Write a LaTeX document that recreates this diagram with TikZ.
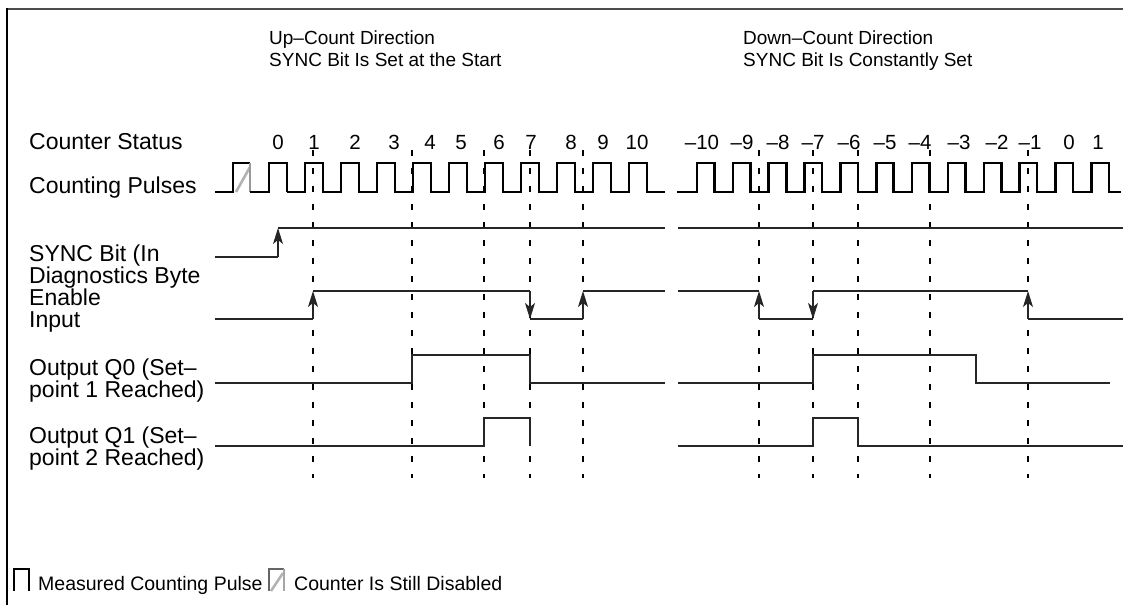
\documentclass[tikz,border=0pt]{standalone}
\usepackage{fontspec}
\setmainfont{Liberation Sans}
\usetikzlibrary{arrows.meta}
\begin{document}
\begin{tikzpicture}[x=1pt,y=-1pt,
  txt/.style={anchor=base west, inner sep=0pt, font=\fontsize{23}{22}\selectfont},
  hdr/.style={anchor=base west, inner sep=0pt, font=\fontsize{19}{22}\selectfont},
  leg/.style={anchor=base west, inner sep=0pt, font=\fontsize{19.5}{22}\selectfont},
  num/.style={anchor=base, inner sep=0pt, font=\fontsize{20.5}{22}\selectfont},
  sig/.style={line width=1.3pt, black!85},
  thinpulse/.style={line width=1.2pt},
  thickpulse/.style={line width=2.6pt},
  gridline/.style={line width=1.3pt, dash pattern=on 6pt off 12pt},
  trans/.style={sig, -{Stealth[length=16pt,width=10pt,inset=4pt]}},
  hatchline/.style={line width=2.6pt, black!30},
  framestyle/.style={line width=2pt}]
\useasboundingbox (0,0) rectangle (1123,605);
% frame
\draw[framestyle, black!70] (1123,9) -- (7,9);
\draw[framestyle] (7,8) -- (7,605);
% headers
\node[hdr] (h1a) at (269,44) {Up–Count Direction};
\node[hdr] (h1b) at (269,66) {SYNC Bit Is Set at the Start};
\node[hdr] (h2a) at (743,44) {Down–Count Direction};
\node[hdr] (h2b) at (743,66) {SYNC Bit Is Constantly Set};
% left labels
\node[txt] (lcs) at (29,149) {Counter Status};
\node[txt] (lcp) at (29,193) {Counting Pulses};
\node[txt] (ls1) at (29,261) {SYNC Bit (In};
\node[txt] (ls2) at (29,283) {Diagnostics Byte};
\node[txt] (le1) at (29,305) {Enable};
\node[txt] (le2) at (29,327) {Input};
\node[txt] (lq01) at (29,375) {Output Q0 (Set–};
\node[txt] (lq02) at (29,397) {point 1 Reached)};
\node[txt] (lq11) at (29,443) {Output Q1 (Set–};
\node[txt] (lq12) at (29,465) {point 2 Reached)};
% counter values
\foreach \v/\x [count=\i] in {0/278,1/314,2/355,3/394,4/430,5/461,6/499,7/531,8/571,9/603,10/637}
  \node[num] (cu\i) at (\x,149) {\v};
\foreach \v/\x [count=\i] in {–10/702,–9/742,–8/778,–7/813,–6/849,–5/885,–4/920,–3/959,–2/997,–1/1030,0/1069,1/1098}
  \node[num] (cd\i) at (\x,149) {\v};
% dashed grid
\foreach \x in {313,412,484,530,583,759,813,858,930,1028}
  \draw[gridline] (\x,150) -- (\x,478);
% counting pulses, left
\draw[hatchline] (236,192) -- (250,167);
\draw[thinpulse] (215,192) -- (233,192) -- (233,163) -- (250,163);
\draw[thinpulse, black!40] (250,163) -- (250,192);
\draw[thinpulse] (250,192) -- (269,192) -- (269,163) -- (287,163) -- (287,192);
\draw[thickpulse] (287,192) \foreach \k in {0,...,9} { -- ({305+36*\k},192) -- ({305+36*\k},163) -- ({323+36*\k},163) -- ({323+36*\k},192) } -- (665,192);
% counting pulses, right
\draw[thickpulse] (677,192) \foreach \k in {0,...,11} { -- ({697+35.85*\k},192) -- ({697+35.85*\k},163) -- ({714.5+35.85*\k},163) -- ({714.5+35.85*\k},192) } -- (1121,192);
% SYNC bit
\draw[sig] (215,257) -- (278,257);
\draw[trans] (278,257) -- (278,228);
\draw[sig] (278,228) -- (665,228);
\draw[sig] (678,228) -- (1123,228);
% Enable input
\draw[sig] (215,319) -- (313,319);
\draw[trans] (313,319) -- (313,291);
\draw[sig] (313,291) -- (530,291);
\draw[trans] (530,291) -- (530,319);
\draw[sig] (530,319) -- (583,319);
\draw[trans] (583,319) -- (583,291);
\draw[sig] (583,291) -- (665,291);
\draw[sig] (678,291) -- (759,291);
\draw[trans] (759,319) -- (759,291);
\draw[sig] (759,319) -- (813,319);
\draw[trans] (813,291) -- (813,319);
\draw[sig] (813,291) -- (1028,291);
\draw[trans] (1028,319) -- (1028,291);
\draw[sig] (1028,319) -- (1123,319);
% Output Q0
\draw[sig] (215,383) -- (412,383) -- (412,355) -- (530,355) -- (530,383) -- (665,383);
\draw[sig] (678,383) -- (813,383) -- (813,355) -- (976,355) -- (976,383) -- (1110,383);
% Output Q1
\draw[sig] (215,446) -- (484,446) -- (484,418) -- (530,418) -- (530,446);
\draw[sig] (678,446) -- (813,446) -- (813,418) -- (858,418) -- (858,446) -- (1123,446);
% legend
\draw[line width=2pt] (14,591) -- (14,569) -- (29,569) -- (29,591);
\node[leg] (lg1) at (38,590) {Measured Counting Pulse};
\draw[hatchline] (271,591) -- (283,573);
\draw[thinpulse, black!60] (269,591) -- (269,569) -- (284,569);
\draw[thinpulse, black!35] (284,569) -- (284,591);
\node[leg] (lg2) at (294,590) {Counter Is Still Disabled};
\end{tikzpicture}
\end{document}
